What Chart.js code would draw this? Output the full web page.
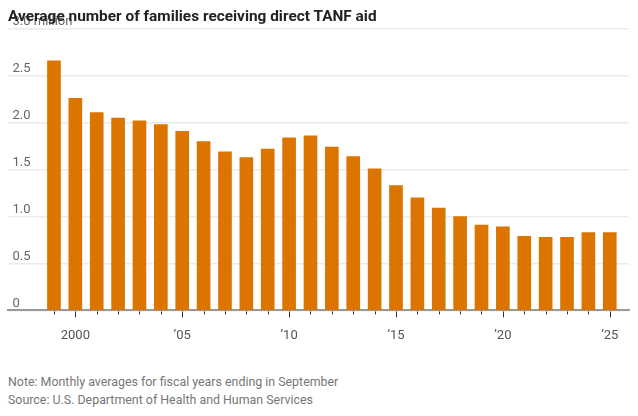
<!DOCTYPE html>
<html>
<head>
<meta charset="utf-8">
<script src="https://cdn.jsdelivr.net/npm/chart.js@4"></script>
<style>
  body { margin: 0; background: #fff; width: 638px; height: 416px; position: relative; overflow: hidden; }
  #wrap { position: absolute; left: 0; top: 0; width: 638px; height: 354px; }
  .title { position: absolute; left: 8px; top: 7px; font: bold 15.4px "Liberation Sans Narrow", Roboto, sans-serif; color: #222; }
  .note { position: absolute; left: 8px; font: 12.4px "Liberation Sans Narrow", Roboto, sans-serif; color: #777; }
</style>
</head>
<body>
<div id="wrap"><canvas id="chart"></canvas></div>
<div class="title">Average number of families receiving direct TANF aid</div>
<div class="note" style="top:374px">Note: Monthly averages for fiscal years ending in September</div>
<div class="note" style="top:392px">Source: U.S. Department of Health and Human Services</div>
<script>
const years = [1999, 2000, 2001, 2002, 2003, 2004, 2005, 2006, 2007, 2008, 2009, 2010, 2011, 2012,
  2013, 2014, 2015, 2016, 2017, 2018, 2019, 2020, 2021, 2022, 2023, 2024, 2025];
// millions of families
const families = [2.66, 2.26, 2.11, 2.05, 2.02, 1.98, 1.91, 1.80, 1.69, 1.63, 1.72, 1.84, 1.86, 1.74,
  1.64, 1.51, 1.33, 1.20, 1.09, 1.00, 0.91, 0.89, 0.79, 0.78, 0.78, 0.83, 0.83];
const xTickYears = [2000, 2005, 2010, 2015, 2020, 2025];
const yTicks = [0, 0.5, 1.0, 1.5, 2.0, 2.5, 3.0];

const fontFam = '"Liberation Sans Narrow", Roboto, sans-serif';

// small tick marks under the baseline, longer on the labelled years
const yearTicks = {
  id: "yearTicks",
  afterDraw(chart) {
    const ctx = chart.ctx;
    const xs = chart.scales.x;
    const base = chart.chartArea.bottom + 1;
    ctx.save();
    ctx.strokeStyle = "#333";
    ctx.lineWidth = 1;
    years.forEach((yr) => {
      const px = Math.round(xs.getPixelForValue(yr)) + 0.5;
      const len = xTickYears.includes(yr) ? 6 : 3;
      ctx.beginPath();
      ctx.moveTo(px, base);
      ctx.lineTo(px, base + len);
      ctx.stroke();
    });
    ctx.restore();
  },
};

new Chart(document.getElementById("chart"), {
  type: "bar",
  data: {
    datasets: [
      {
        data: years.map((yr, i) => ({ x: yr, y: families[i] })),
        backgroundColor: "#dc7400",
        barThickness: 13,
      },
    ],
  },
  options: {
    responsive: true,
    maintainAspectRatio: false,
    animation: false,
    layout: { padding: { left: 8, right: 9, top: 29, bottom: 0 } },
    plugins: { legend: { display: false }, tooltip: { enabled: false } },
    scales: {
      x: {
        type: "linear",
        offset: false,
        min: 1996.85,
        max: 2025.9,
        afterBuildTicks: (axis) => {
          axis.ticks = xTickYears.map((v) => ({ value: v }));
        },
        ticks: {
          autoSkip: false,
          maxRotation: 0,
          padding: 10,
          color: "#555",
          font: { family: fontFam, size: 13 },
          callback: (v) => (v === 2000 ? "2000" : "\u2019" + String(v).slice(2)),
        },
        grid: { display: false },
        border: { display: true, color: "#999", width: 2 },
      },
      y: {
        min: 0,
        max: 3,
        afterBuildTicks: (axis) => {
          axis.ticks = yTicks.map((v) => ({ value: v }));
        },
        afterFit: (axis) => {
          axis.width = 0; // labels sit inside the plot
        },
        ticks: {
          mirror: true,
          padding: 4.5,
          labelOffset: -7,
          color: "#666",
          font: { family: fontFam, size: 13 },
          callback: (v) => (v === 0 ? "0" : v === 3 ? "3.0 million" : v.toFixed(1)),
        },
        grid: { color: "#ebebeb", lineWidth: 1.5, drawTicks: false },
        border: { display: false },
      },
    },
  },
  plugins: [yearTicks],
});
</script>
</body>
</html>
